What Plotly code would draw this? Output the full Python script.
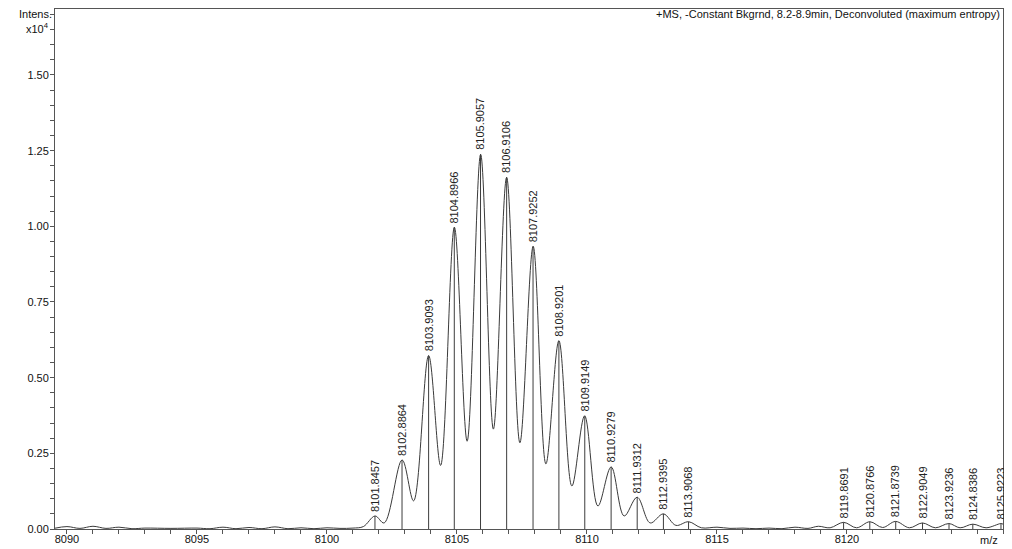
import plotly.graph_objects as go

# ---- data (intensity in units of 1e4) ----
peak_mz = [8101.8457, 8102.8864, 8103.9093, 8104.8966, 8105.9057, 8106.9106,
           8107.9252, 8108.9201, 8109.9149, 8110.9279, 8111.9312, 8112.9395,
           8113.9068, 8119.8691, 8120.8766, 8121.8739, 8122.9049, 8123.9236,
           8124.8386, 8125.9223]
peak_int = [0.043, 0.228, 0.573, 0.997, 1.238, 1.162,
            0.934, 0.622, 0.374, 0.205, 0.105, 0.050,
            0.024, 0.022, 0.024, 0.025, 0.020, 0.018,
            0.016, 0.018]

profile_mz = [8089.5, 8090.0, 8090.5, 8091.0, 8091.5, 8092.0, 8092.5, 8093.0, 8094.0,
              8095.0, 8095.5, 8096.0, 8096.5, 8097.0, 8097.5, 8098.0, 8098.5, 8099.0,
              8099.5, 8100.0, 8100.5, 8101.0, 8101.4, 8101.85, 8102.2, 8102.89,
              8103.33, 8103.91, 8104.37, 8104.90, 8105.39, 8105.91, 8106.40, 8106.91,
              8107.42, 8107.93, 8108.42, 8108.92, 8109.42, 8109.91, 8110.42, 8110.93,
              8111.43, 8111.93, 8112.43, 8112.94, 8113.42, 8113.91, 8114.4, 8115.0,
              8115.5, 8116.0, 8116.5, 8117.0, 8117.5, 8118.0, 8118.5, 8118.9, 8119.35,
              8119.87, 8120.37, 8120.88, 8121.37, 8121.87, 8122.4, 8122.9, 8123.4,
              8123.92, 8124.35, 8124.84, 8125.35, 8125.92, 8126.0]
profile_int = [0.002, 0.008, 0.002, 0.009, 0.002, 0.006, 0.001, 0.003, 0.002,
               0.003, 0.001, 0.006, 0.001, 0.005, 0.001, 0.007, 0.001, 0.004,
               0.001, 0.004, 0.002, 0.003, 0.008, 0.043, 0.020, 0.228,
               0.093, 0.573, 0.210, 0.997, 0.290, 1.238, 0.330, 1.162,
               0.285, 0.934, 0.215, 0.622, 0.142, 0.374, 0.076, 0.205,
               0.043, 0.105, 0.020, 0.050, 0.012, 0.024, 0.004, 0.006,
               0.002, 0.003, 0.001, 0.003, 0.001, 0.006, 0.002, 0.009, 0.004,
               0.022, 0.004, 0.024, 0.005, 0.025, 0.004, 0.020, 0.004,
               0.018, 0.004, 0.016, 0.004, 0.018, 0.016]

x_ticks = [8090, 8095, 8100, 8105, 8110, 8115, 8120]
y_ticks = [0.00, 0.25, 0.50, 0.75, 1.00, 1.25, 1.50]

title_text = "+MS, -Constant Bkgrnd, 8.2-8.9min, Deconvoluted (maximum entropy)"

FONT = "Arial, Liberation Sans, sans-serif"

fig = go.Figure()

# profile spectrum
fig.add_trace(go.Scatter(
    x=profile_mz, y=profile_int, mode="lines",
    line=dict(color="#3a3a3a", width=1, shape="spline", smoothing=1.0),
    hoverinfo="skip", showlegend=False))

# centroid sticks
stick_x, stick_y = [], []
for m, h in zip(peak_mz, peak_int):
    stick_x += [m, m, None]
    stick_y += [0, h, None]
fig.add_trace(go.Scatter(
    x=stick_x, y=stick_y, mode="lines",
    line=dict(color="#3c3c3c", width=1),
    hoverinfo="skip", showlegend=False))

# peak labels
for m, h in zip(peak_mz, peak_int):
    fig.add_annotation(
        x=m, y=h, xref="x", yref="y", text=f"{m:.4f}",
        textangle=-90, showarrow=False, xanchor="center", yanchor="bottom",
        yshift=2, font=dict(family=FONT, size=11, color="#222222"))

# header texts
fig.add_annotation(x=1, y=1, xref="paper", yref="paper", text=title_text,
                   showarrow=False, xanchor="right", yanchor="middle", xshift=-1, yshift=-5,
                   font=dict(family=FONT, size=11, color="#111111"))
fig.add_annotation(x=0, y=1, xref="paper", yref="paper", text="Intens.",
                   showarrow=False, xanchor="right", yanchor="middle", xshift=-1, yshift=-5,
                   font=dict(family=FONT, size=11, color="#111111"))
fig.add_annotation(x=0, y=1, xref="paper", yref="paper", text="x10<sup>4</sup>",
                   showarrow=False, xanchor="right", yanchor="middle", xshift=-4, yshift=-19,
                   font=dict(family=FONT, size=11, color="#111111"))
fig.add_annotation(x=1, y=0, xref="paper", yref="paper", text="m/z",
                   showarrow=False, xanchor="right", yanchor="middle", xshift=-3, yshift=-11,
                   font=dict(family=FONT, size=11, color="#111111"))

fig.update_xaxes(
    range=[8089.54, 8126.0], tickvals=x_ticks, ticktext=[str(v) for v in x_ticks],
    ticks="outside", ticklen=4, tickcolor="#555555", tickwidth=1,
    ticklabelstandoff=-4,
    minor=dict(dtick=1, tick0=8090, ticks="outside", ticklen=4, tickcolor="#555555"),
    showline=True, linecolor="#555555", linewidth=1, mirror=True,
    showgrid=False, zeroline=False,
    tickfont=dict(family=FONT, size=11, color="#111111"))
fig.update_yaxes(
    range=[0, 1.718], tickvals=y_ticks, ticktext=[f"{v:.2f}" for v in y_ticks],
    ticks="outside", ticklen=4, tickcolor="#555555", tickwidth=1,
    ticklabelstandoff=-1,
    minor=dict(dtick=0.05, tick0=0, ticks="outside", ticklen=4, tickcolor="#555555"),
    showline=True, linecolor="#555555", linewidth=1, mirror=True,
    showgrid=False, zeroline=False,
    tickfont=dict(family=FONT, size=11, color="#111111"))

# page body adds an 8px offset, so the figure is sized to fill the window exactly
fig.update_layout(
    width=1004, height=541,
    margin=dict(l=47, r=9, t=1, b=20),
    paper_bgcolor="white", plot_bgcolor="white",
    showlegend=False)

fig.write_html("out.html")
